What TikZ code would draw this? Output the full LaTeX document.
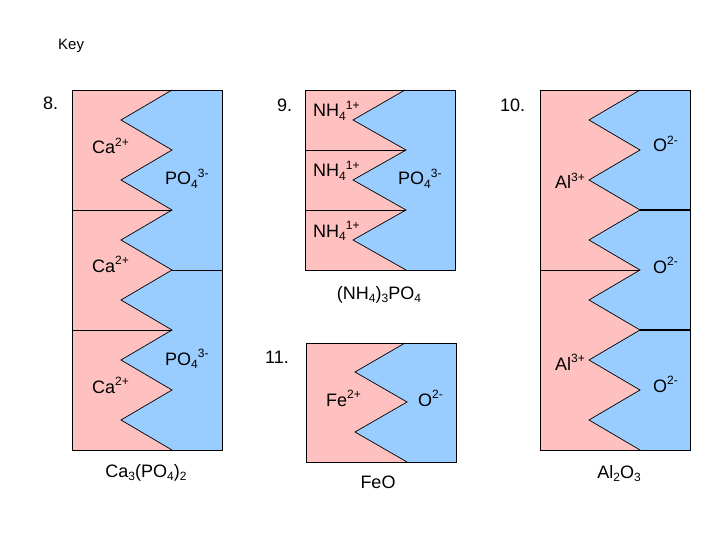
\documentclass[tikz,border=0pt]{standalone}
\usepackage{fontspec}
\setmainfont{Liberation Sans}
\definecolor{pinkc}{RGB}{255,192,192}
\definecolor{bluec}{RGB}{153,204,255}
\newcommand{\upx}[1]{\raisebox{0.42em}{\fontsize{12}{12}\selectfont #1}}
\newcommand{\dnx}[1]{\raisebox{-0.22em}{\fontsize{12}{12}\selectfont #1}}
\begin{document}
\begin{tikzpicture}[x=1pt,y=-1pt,
  lbl/.style={anchor=base west, inner sep=0pt, font=\fontsize{18}{18}\selectfont},
  frame/.style={draw=black, line width=0.8pt},
  zig/.style={draw=black, line width=0.7pt, line join=miter},
  sep/.style={draw=black, line width=0.8pt},
  thicksep/.style={draw=black, line width=1.6pt}]
\useasboundingbox (0,0) rectangle (720,540);

% ---------- Panel 8 ----------
\fill[pinkc] (72,90) rectangle (222,450);
\fill[bluec] (172,90) -- (121,120) -- (172,150) -- (121,180) -- (172,210) -- (121,240) -- (172,270) -- (121,300) -- (172,330) -- (121,360) -- (172,390) -- (121,420) -- (172,450) -- (222,450) -- (222,90) -- cycle;
\draw[zig] (172,90) -- (121,120) -- (172,150) -- (121,180) -- (172,210) -- (121,240) -- (172,270) -- (121,300) -- (172,330) -- (121,360) -- (172,390) -- (121,420) -- (172,450);
\draw[sep] (72,210) -- (172,210);
\draw[sep] (72,330) -- (172,330);
\draw[sep] (172,270) -- (222,270);
\draw[frame] (72,90) rectangle (222,450);

% ---------- Panel 9 ----------
\fill[pinkc] (305,90) rectangle (455,270);
\fill[bluec] (405,90) -- (353,120) -- (406,150) -- (353,180) -- (406,210) -- (353,240) -- (406,270) -- (455,270) -- (455,90) -- cycle;
\draw[zig] (405,90) -- (353,120) -- (406,150) -- (353,180) -- (406,210) -- (353,240) -- (406,270);
\draw[sep] (305,150) -- (406,150);
\draw[sep] (305,210) -- (406,210);
\draw[frame] (305,90) rectangle (455,270);

% ---------- Panel 10 ----------
\fill[pinkc] (540,90) rectangle (690,450);
\fill[bluec] (640,90) -- (589,120) -- (640,150) -- (589,180) -- (640,210) -- (589,240) -- (640,270) -- (589,300) -- (640,330) -- (589,360) -- (640,390) -- (589,420) -- (640,450) -- (690,450) -- (690,90) -- cycle;
\draw[zig] (640,90) -- (589,120) -- (640,150) -- (589,180) -- (640,210) -- (589,240) -- (640,270) -- (589,300) -- (640,330) -- (589,360) -- (640,390) -- (589,420) -- (640,450);
\draw[thicksep] (640,210) -- (690,210);
\draw[thicksep] (640,330) -- (690,330);
\draw[sep] (540,270) -- (640,270);
\draw[frame] (540,90) rectangle (690,450);

% ---------- Panel 11 ----------
\fill[pinkc] (306,343) rectangle (456,462);
\fill[bluec] (405,343) -- (355,372) -- (407,402) -- (355,432) -- (407,462) -- (456,462) -- (456,343) -- cycle;
\draw[zig] (405,343) -- (355,372) -- (407,402) -- (355,432) -- (407,462);
\draw[frame] (306,343) rectangle (456,462);

% ---------- Labels ----------
\node[lbl, font=\fontsize{15}{15}\selectfont] (key) at (58,50) {Key};
\node[lbl] (n8) at (43,110) {8.};
\node[lbl] (n9) at (277,112) {9.};
\node[lbl] (n10) at (500,112) {10.};
\node[lbl] (n11) at (265,363) {11.};

% panel 8
\node[lbl] (ca1) at (92,154) {Ca\upx{2+}};
\node[lbl] (po1) at (165,185) {PO\dnx{4}\upx{3-}};
\node[lbl] (ca2) at (92,272) {Ca\upx{2+}};
\node[lbl] (po2) at (165,365) {PO\dnx{4}\upx{3-}};
\node[lbl] (ca3) at (92,393) {Ca\upx{2+}};
\node[lbl, anchor=base] (f8) at (146,477) {Ca\dnx{3}(PO\dnx{4})\dnx{2}};

% panel 9
\node[lbl] (nh1) at (313,117) {NH\dnx{4}\upx{1+}};
\node[lbl] (nh2) at (313,177) {NH\dnx{4}\upx{1+}};
\node[lbl] (nh3) at (313,237) {NH\dnx{4}\upx{1+}};
\node[lbl] (po3) at (398,185) {PO\dnx{4}\upx{3-}};
\node[lbl, anchor=base] (f9) at (379,299) {(NH\dnx{4})\dnx{3}PO\dnx{4}};

% panel 10
\node[lbl] (o1) at (653,152) {O\upx{2-}};
\node[lbl] (al1) at (555,189) {Al\upx{3+}};
\node[lbl] (o2) at (653,273) {O\upx{2-}};
\node[lbl] (al2) at (555,370) {Al\upx{3+}};
\node[lbl] (o3) at (653,392) {O\upx{2-}};
\node[lbl, anchor=base] (f10) at (619,478) {Al\dnx{2}O\dnx{3}};

% panel 11
\node[lbl] (fe) at (326,406) {Fe\upx{2+}};
\node[lbl] (o4) at (418,406) {O\upx{2-}};
\node[lbl, anchor=base] (f11) at (378,488) {FeO};
\end{tikzpicture}
\end{document}
